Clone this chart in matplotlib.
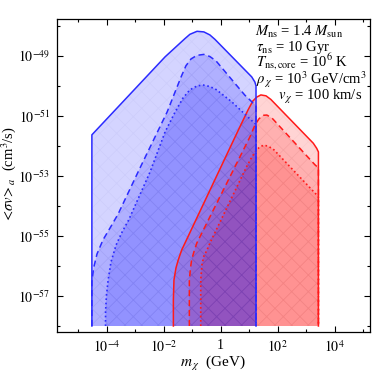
import numpy as np
import matplotlib
matplotlib.use("Agg")
import matplotlib.pyplot as plt
from matplotlib.ticker import FixedLocator, FixedFormatter, NullFormatter

plt.rcParams['font.family'] = ['Liberation Serif', 'DejaVu Serif']
plt.rcParams['mathtext.fontset'] = 'stix'
plt.rcParams['hatch.linewidth'] = 0.6

# curves, as log10(m / GeV) and log10(<sigma v> / cm^3 s^-1)
# blue set
blue_solid_lm = [-4.52, -4.52, -1.95, -1.25, -1.08, -0.83, -0.59, -0.38, -0.20, 1.09, 1.20, 1.24, 1.24]
blue_solid_ls = [-58.0, -51.63, -49.03, -48.42, -48.28, -48.18, -48.20, -48.30, -48.45, -49.70, -49.87, -50.0, -58.0]

blue_dash_lm = [-4.52, -4.52, -4.46, -4.34, -4.13, -3.88, -3.60, -2.83, -1.88, -1.60, -1.39, -1.22,
                -1.04, -0.83, -0.59, -0.38, -0.16, 0.85, 1.03, 1.24, 1.24]
blue_dash_ls = [-58.0, -56.53, -56.07, -55.60, -55.13, -54.73, -54.27, -52.73, -50.87, -50.20, -49.70, -49.33,
                -49.10, -48.98, -48.95, -49.02, -49.17, -50.31, -50.47, -50.67, -58.0]

blue_dot_lm = [-4.04, -4.04, -4.01, -3.95, -3.85, -3.67, -3.46, -3.23, -2.48, -1.95, -1.60, -1.32,
               -1.08, -0.83, -0.62, -0.38, -0.16, 0.39, 1.14, 1.24, 1.24]
blue_dot_ls = [-58.0, -57.53, -57.0, -56.47, -55.87, -55.30, -54.87, -54.47, -52.87, -51.53, -50.87, -50.40,
               -50.13, -50.0, -49.97, -50.02, -50.12, -50.53, -51.20, -51.28, -58.0]

# red set
red_solid_lm = [-1.66, -1.66, -1.64, -1.57, -1.49, -1.37, -1.25, 0.62, 0.96, 1.13, 1.27, 1.41, 1.59,
                1.76, 3.25, 3.37, 3.43, 3.43]
red_solid_ls = [-58.0, -57.13, -56.47, -56.07, -55.80, -55.47, -55.23, -51.47, -50.80, -50.50, -50.37, -50.30,
                -50.33, -50.45, -51.91, -52.08, -52.20, -58.0]

red_dash_lm = [-1.10, -1.10, -1.10, -1.06, -1.02, -0.94, -0.84, 1.03, 1.20, 1.34, 1.48, 1.62, 1.80,
               3.31, 3.43, 3.43]
red_dash_ls = [-58.0, -56.97, -56.47, -56.07, -55.80, -55.53, -55.24, -51.69, -51.31, -51.10, -50.98, -50.97,
               -51.07, -52.63, -52.73, -58.0]

red_dot_lm = [-0.70, -0.70, -0.66, -0.59, -0.48, -0.38, 0.91, 1.10, 1.26, 1.38, 1.52, 1.69, 1.87,
              3.37, 3.43, 3.43]
red_dot_ls = [-58.0, -56.47, -55.97, -55.67, -55.47, -55.24, -52.69, -52.36, -52.13, -52.03, -51.97, -52.02,
              -52.13, -53.63, -53.70, -58.0]

xtick_exp = [-4, -2, 0, 2, 4]
xtick_labels = [r'$10^{-4}$', r'$10^{-2}$', '1', r'$10^{2}$', r'$10^{4}$']
ytick_exp = [-57, -55, -53, -51, -49]
ytick_labels = [r'$10^{-57}$', r'$10^{-55}$', r'$10^{-53}$', r'$10^{-51}$', r'$10^{-49}$']

notes = [r'$M_{\rm ns}$ = 1.4 $M_{\rm sun}$',
         r'$\tau_{\rm ns}$ = 10 Gyr',
         r'$T_{\rm ns,core}$ = 10$^6$ K',
         r'$\rho_{\,\chi}$ = 10$^3$ GeV/cm$^3$',
         r'$v_{\,\chi}$ = 100 km/s']

fig = plt.figure(figsize=(3.74, 3.78), dpi=100)
ax = fig.add_axes([57/374, 46/378, 313/374, 313/378])
ax.set_xscale('log')
ax.set_yscale('log')

a = 0.17
blue = (0.0, 0.0, 1.0)
red = (1.0, 0.0, 0.0)
bline = '#2b2bff'
rline = '#ff1a1a'

def tolin(lm, ls):
    return 10.0**np.array(lm), 10.0**np.array(ls)

# red first, blue drawn over it
for lm, ls, st in [(red_solid_lm, red_solid_ls, '-'), (red_dash_lm, red_dash_ls, '--'), (red_dot_lm, red_dot_ls, ':')]:
    x, y = tolin(lm, ls)
    ax.fill(x, y, facecolor=red, alpha=a, lw=0)
    ax.fill(x, y, facecolor='none', edgecolor=(0.5, 0, 0, 0.03), hatch='xx', lw=0)
for lm, ls, st in [(red_solid_lm, red_solid_ls, '-'), (red_dash_lm, red_dash_ls, '--'), (red_dot_lm, red_dot_ls, ':')]:
    x, y = tolin(lm, ls)
    if st == '--':
        ax.plot(x, y, color=rline, lw=1.1, dashes=(4, 2.5))
    elif st == ':':
        ax.plot(x, y, color=rline, lw=1.2, dashes=(1, 1.6))
    else:
        ax.plot(x, y, color=rline, lw=1.1)

for lm, ls, st in [(blue_solid_lm, blue_solid_ls, '-'), (blue_dash_lm, blue_dash_ls, '--'), (blue_dot_lm, blue_dot_ls, ':')]:
    x, y = tolin(lm, ls)
    ax.fill(x, y, facecolor=blue, alpha=a, lw=0)
    ax.fill(x, y, facecolor='none', edgecolor=(0, 0, 0.5, 0.03), hatch='xx', lw=0)
for lm, ls, st in [(blue_solid_lm, blue_solid_ls, '-'), (blue_dash_lm, blue_dash_ls, '--'), (blue_dot_lm, blue_dot_ls, ':')]:
    x, y = tolin(lm, ls)
    if st == '--':
        ax.plot(x, y, color=bline, lw=1.1, dashes=(4, 2.5))
    elif st == ':':
        ax.plot(x, y, color=bline, lw=1.2, dashes=(1, 1.6))
    else:
        ax.plot(x, y, color=bline, lw=1.1)

ax.set_xlim(10**-5.744, 10**5.24)
ax.set_ylim(10**-58.2, 10**-47.77)

ax.xaxis.set_major_locator(FixedLocator([10.0**e for e in xtick_exp]))
ax.xaxis.set_major_formatter(FixedFormatter(xtick_labels))
ax.xaxis.set_minor_locator(FixedLocator([10.0**e for e in range(-5, 6, 2)]))
ax.xaxis.set_minor_formatter(NullFormatter())
ax.yaxis.set_major_locator(FixedLocator([10.0**e for e in ytick_exp]))
ax.yaxis.set_major_formatter(FixedFormatter(ytick_labels))
ax.yaxis.set_minor_locator(FixedLocator([10.0**e for e in range(-58, -47, 2)]))
ax.yaxis.set_minor_formatter(NullFormatter())

ax.tick_params(which='both', direction='in', top=True, right=True, width=0.8, labelsize=10)
ax.tick_params(which='major', length=4)
ax.tick_params(axis='y', which='major', pad=5)
ax.tick_params(axis='x', which='major', pad=5)
ax.tick_params(which='minor', length=2.5)
for s in ax.spines.values():
    s.set_linewidth(0.9)

# axis titles placed in figure pixels
fig.text(213/374, 1 - 363/378, r'$m_{\,\chi}$  (GeV)', fontsize=11, ha='center', va='center')
fig.text(9/374, 1 - 175/378, r'$<\!\sigma v\!>_a$  (cm$^3$/s)', fontsize=10.5,
         ha='center', va='center', rotation=90)

# notes in upper right
note_pos = [(255, 32), (256, 47), (256, 62), (256, 80), (278, 97)]
for t, (px, py) in zip(notes, note_pos):
    fig.text(px/374, 1 - py/378, t, fontsize=10.5, va='center', ha='left')

fig.savefig('out.png', dpi=100)
